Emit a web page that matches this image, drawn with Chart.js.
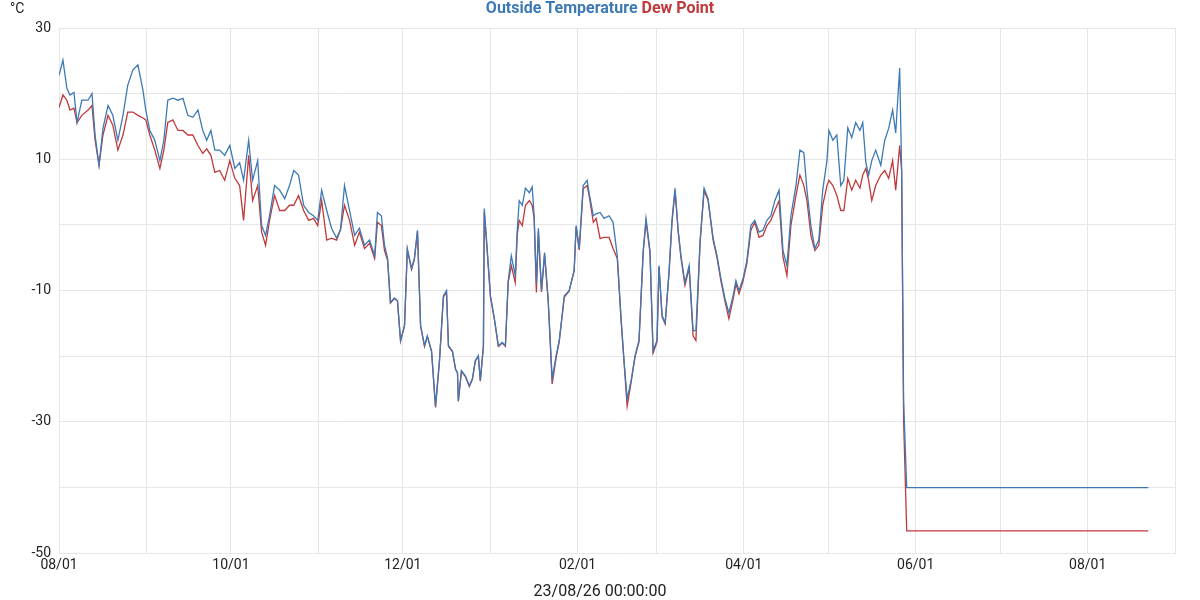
<!DOCTYPE html>
<html>
<head>
<meta charset="utf-8">
<script src="https://cdn.jsdelivr.net/npm/chart.js@4/dist/chart.umd.min.js"></script>
<style>
  html, body { margin: 0; padding: 0; background: #fff; }
  #wrap { width: 1200px; height: 600px; }
</style>
</head>
<body>
<div id="wrap"><canvas id="c" width="1200" height="600"></canvas></div>
<script>
// [day since 08/01, temperature, dew point]
const readings = [
  [0, 22.8, 17.9], [1.4, 25.1, 19.8], [2.8, 20.8, 19], [3.9, 19.8, 17.5], [5.3, 20.2, 17.8],
  [6.4, 15.6, 15.6], [8.1, 19, 16.7], [10.3, 19, 17.5], [11.7, 20, 18.2], [12.8, 13.7, 12.9],
  [14.2, 9.1, 9.1], [15.6, 14.7, 13.7], [17.4, 18.2, 16.7], [19.1, 16.7, 15.2], [20.9, 12.9, 11.4],
  [22.7, 16.7, 13.7], [24.4, 21.3, 17.2], [26.2, 23.6, 17.2], [28, 24.4, 16.7], [29.8, 20.5, 16.3],
  [30.8, 17.5, 16], [32.2, 14.4, 13.7], [34, 12.9, 11.4], [35.8, 9.8, 8.6], [37.2, 12.9, 11.4],
  [38.6, 19, 15.6], [40.4, 19.3, 16], [42.2, 19, 14.4], [44, 19.3, 14.4], [45.7, 16.7, 13.7],
  [47.5, 16.4, 13.7], [49.3, 17.5, 12.1], [51, 14.4, 10.9], [52.4, 12.9, 11.6], [53.9, 14.4, 10.6],
  [55.3, 11.4, 8], [57, 11.4, 8.3], [58.8, 10.6, 6.8], [60.6, 12.1, 9.8], [62.4, 8.6, 7.1],
  [64.1, 9.5, 6], [65.5, 6.8, 0.7], [67.3, 12.9, 10.6], [68.7, 6.8, 3.7], [70.5, 9.8, 6],
  [71.9, -0.1, -1.1], [73.3, -1.6, -3.1], [74.7, 1.4, 0.7], [76.5, 6, 4.5], [78.3, 5.3, 2.2],
  [80.1, 4, 2.2], [81.8, 6, 3], [83.3, 8.3, 3], [85, 7.6, 4.5], [86.8, 3, 2.2],
  [88.6, 1.9, 0.7], [90.3, 1.4, 1], [91.8, 0.7, -0.1], [93.2, 5.3, 3.7], [95, 2.2, -2.3],
  [96.7, -0.5, -2], [98.5, -2, -2.3], [99.9, -0.7, -0.7], [101.3, 6, 3], [103.1, 2.2, 0.7],
  [104.9, -1.6, -3.1], [106.6, -0.5, -1.1], [108.4, -3.1, -3.6], [110.2, -2.3, -2.8], [112, -4.7, -5.1],
  [113, 1.9, 0.4], [114.4, 1.4, -0.1], [115.5, -3.1, -3.9], [116.6, -5.1, -5.4], [117.6, -11.8, -11.9],
  [119, -11.1, -11.2], [120.1, -11.5, -11.6], [121.2, -17.6, -17.7], [122.6, -15.3, -15.4], [123.6, -3.6, -3.8],
  [125.1, -6.6, -6.8], [126.1, -5.1, -5.3], [127.2, -0.8, -1], [128.3, -15.3, -15.4], [129.7, -18.4, -18.5],
  [130.7, -16.9, -17], [132.2, -19.2, -19.3], [133.6, -27.6, -27.8], [135, -20.7, -20.8], [136.4, -10.8, -11],
  [137.5, -10, -10.2], [138.2, -18.4, -18.5], [139.6, -19.2, -19.3], [140.7, -21.9, -22], [141.4, -22.5, -22.6],
  [141.7, -26.8, -26.9], [142.8, -22.2, -22.3], [144.2, -23, -23.1], [145.6, -24.5, -24.6], [146.7, -23.4, -23.5],
  [147.7, -20.7, -20.8], [148.8, -19.9, -20], [149.5, -23.7, -23.8], [150.6, -18.4, -18.5], [150.9, 2.5, 2],
  [151.6, -1.6, -2], [153.1, -10.8, -11], [154.5, -14.3, -14.4], [155.9, -18.4, -18.5], [157.3, -17.9, -18],
  [158.4, -18.4, -18.5], [159.4, -8.5, -8.7], [160.5, -4.7, -6.2], [161.9, -7.7, -8.8], [162.6, -0.8, -1.5],
  [163.3, 3.7, 0.7], [164.4, 3, -0.1], [165.5, 5.6, 3], [166.9, 4.9, 3.7], [167.9, 5.8, 3],
  [168.6, 1.4, 1], [169.4, -9, -10.3], [170.1, -0.5, -1], [171.2, -10, -10.2], [172.3, -4.2, -4.5],
  [173.6, -11.5, -11.7], [175, -23.4, -24.2], [176.4, -19.9, -20.2], [177.5, -17.6, -17.8], [179.3, -10.8, -11],
  [181, -10, -10.1], [182.8, -6.9, -7], [183.5, -0.1, -0.3], [184.6, -3.6, -3.8], [186, 6, 5.5],
  [187.4, 6.8, 6], [188.1, 4.9, 4.5], [189.6, 1.4, 0.4], [190.6, 1.7, 1], [192, 1.9, -2.1],
  [193.4, 1, -1.9], [195.2, 1.4, -1.9], [196.6, 0.4, -3.6], [198.1, -4.7, -5.1], [199.5, -14.6, -14.8],
  [200.5, -20.7, -20.9], [201.6, -26.5, -27.6], [203, -23.7, -24], [204.4, -19.9, -20.1], [205.8, -17.6, -17.8],
  [207.3, -3.9, -4.2], [208.3, 1, 0.5], [209.7, -3.9, -4.2], [210.8, -19.2, -19.5], [212.2, -17.6, -17.8],
  [212.9, -6.2, -6.4], [214, -13.8, -14], [215.1, -14.9, -15.1], [216.5, -6.9, -7.1], [217.5, 0.7, 0.3],
  [218.6, 5.6, 5.2], [219.7, -0.8, -1], [220.7, -4.7, -5], [222.1, -8.8, -9.2], [223.6, -6.2, -6.6],
  [225, -16.1, -16.9], [226, -16.1, -17.6], [227.5, -2.3, -2.6], [228.9, 5.6, 5.2], [230.3, 4, 3.8],
  [232.1, -2, -2.3], [233.5, -4.7, -5], [234.9, -8.2, -8.6], [236.3, -11.2, -11.6], [237.7, -13.4, -14.3],
  [239.2, -10.8, -11.3], [240.2, -8.5, -9], [241.3, -10, -10.5], [242.7, -8.2, -8.6], [244.1, -5.4, -5.8],
  [245.5, -0.1, -0.8], [246.9, 0.7, 0.4], [248.4, -1.1, -1.9], [249.8, -0.8, -1.6], [251.2, 0.7, -0.1],
  [252.6, 1.4, 0.7], [254, 3.7, 2.2], [255.5, 5.3, 3.7], [256.9, -3.9, -4.9], [258.3, -6.2, -7.7],
  [259.7, 1.4, -0.1], [261.5, 6, 4.5], [262.9, 11.4, 7.6], [264.3, 11, 6], [265.4, 5.3, 3.7],
  [266.8, -0.1, -1.6], [268.2, -3.6, -3.9], [269.6, -2.3, -3.1], [271, 5.3, 3], [272.5, 9.8, 6],
  [273.2, 14.4, 6.8], [274.6, 12.9, 6], [276, 13.7, 4.5], [277.4, 6, 2.2], [278.5, 6.8, 2.2],
  [279.9, 14.8, 7.1], [281.3, 13.3, 5.3], [282.7, 15.6, 6.8], [284.2, 14.4, 5.6], [285.2, 15.6, 7.6],
  [286.3, 9.5, 8.6], [287.3, 7.6, 6.8], [288.4, 9.8, 3.7], [289.8, 11.4, 6], [291.6, 9.1, 7.6],
  [293, 12.9, 8.3], [294.4, 14.7, 7.1], [295.8, 17.5, 9.8], [296.9, 14, 5.3], [298.3, 23.9, 12.1],
  [299, 8.3, 8.3], [299.7, -26.8, -29.8], [300.8, -40, -46.6], [386.5, -40, -46.6]
];

const temps = readings.map((r) => ({ x: r[0], y: r[1] }));
const dews = readings.map((r) => ({ x: r[0], y: r[2] }));

// month starts, days from 08/01
const months = [
  [0, "08/01"], [31, ""], [61, "10/01"], [92, ""], [122, "12/01"], [153, ""], [184, "02/01"],
  [212, ""], [243, "04/01"], [273, ""], [304, "06/01"], [334, ""], [365, "08/01"], [396, ""]
];
const monthLabel = {};
months.forEach((m) => (monthLabel[m[0]] = m[1]));

const BLUE = "#3d7ab5";
const RED = "#c0393b";

const titlePlugin = {
  id: "twoTitle",
  afterDraw(chart) {
    const ctx = chart.ctx;
    ctx.save();
    ctx.font = "bold 16px Roboto";
    ctx.textBaseline = "middle";
    const a = "Outside Temperature ", b = "Dew Point";
    const w = ctx.measureText(a).width + ctx.measureText(b).width;
    let x = 600 - w / 2;
    ctx.fillStyle = BLUE;
    ctx.fillText(a, x, 9);
    ctx.fillStyle = RED;
    ctx.fillText(b, x + ctx.measureText(a).width, 9);
    ctx.font = "14px Roboto";
    ctx.fillStyle = "#222";
    ctx.fillText("°C", 10, 9);
    ctx.font = "16px Roboto";
    ctx.textAlign = "center";
    ctx.fillText("23/08/26 00:00:00", 600, 592);
    ctx.restore();
  },
};

new Chart(document.getElementById("c"), {
  type: "line",
  data: {
    datasets: [
      { label: "Outside Temperature", data: temps, borderColor: BLUE, borderWidth: 1.3, pointRadius: 0, tension: 0 },
      { label: "Dew Point", data: dews, borderColor: RED, borderWidth: 1.3, pointRadius: 0, tension: 0 },
    ],
  },
  options: {
    responsive: false,
    animation: false,
    layout: { padding: { top: 28, right: 25, left: 0, bottom: 22 } },
    plugins: { legend: { display: false }, tooltip: { enabled: false } },
    scales: {
      x: {
        type: "linear",
        min: 0,
        max: 396,
        afterBuildTicks: (axis) => (axis.ticks = months.map((m) => ({ value: m[0] }))),
        ticks: {
          autoSkip: false,
          maxRotation: 0,
          padding: 4,
          color: "#222",
          font: { family: "Roboto", size: 14 },
          callback: (v) => monthLabel[v] ?? "",
        },
        grid: { color: "#e6e6e6", drawTicks: false },
        border: { color: "#e6e6e6" },
      },
      y: {
        min: -50,
        max: 30,
        ticks: {
          stepSize: 10,
          color: "#222",
          padding: 8,
          font: { family: "Roboto", size: 14 },
          callback: (v) => ((v + 50) % 20 === 0 ? v : ""),
        },
        grid: { color: "#e6e6e6", drawTicks: false },
        border: { color: "#e6e6e6" },
        afterFit: (s) => (s.width = 59),
      },
    },
  },
  plugins: [titlePlugin],
});
</script>
</body>
</html>
